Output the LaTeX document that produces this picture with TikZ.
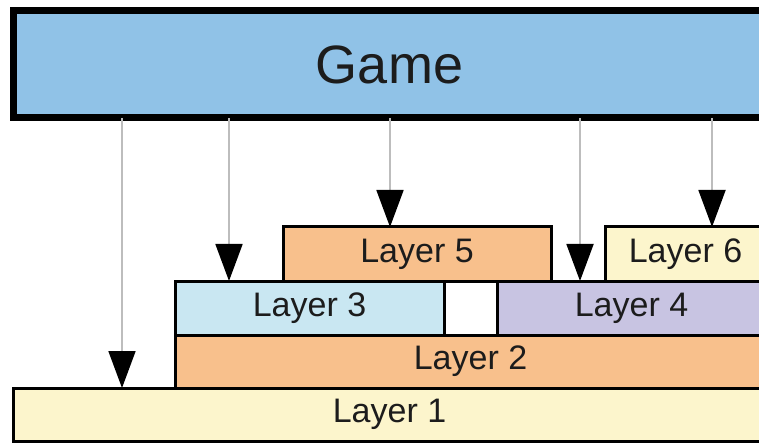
\documentclass[tikz,border=0pt]{standalone}
\usepackage{fontspec}
\setmainfont{Liberation Sans}
\usetikzlibrary{arrows.meta}
\definecolor{gamefill}{HTML}{90C2E7}
\definecolor{ylw}{HTML}{FCF5CC}
\definecolor{org}{HTML}{F8C08C}
\definecolor{lblue}{HTML}{C9E7F2}
\definecolor{lav}{HTML}{C8C4E2}
\definecolor{txt}{HTML}{1C1C1C}
\definecolor{wire}{HTML}{BDBDBD}
\tikzset{
  layerbox/.style={draw=black, line width=3pt, inner sep=0pt, outer sep=0pt,
    text=txt, font=\fontsize{34}{36}\selectfont},
  gamebox/.style={draw=black, line width=7pt, fill=gamefill, inner sep=0pt, outer sep=0pt,
    text=txt, font=\fontsize{54}{58}\selectfont},
  call/.style={draw=wire, line width=1.8pt,
    -{Triangle[length=37pt,width=27pt,color=black]}},
}
\begin{document}
\begin{tikzpicture}[x=1pt,y=-1pt]
\useasboundingbox (0,0) rectangle (759,443);
\clip (0,0) rectangle (759,443);
\fill[white] (0,0) rectangle (759,443);
% Game
\node[gamebox, minimum width=753pt, minimum height=107pt] (game) at (389.5,64.5) {Game};
% Layers
\node[layerbox, fill=ylw, minimum width=753pt, minimum height=53pt] (l1) at (389.5,414.5) {Layer 1};
\node[layerbox, fill=org, minimum width=591pt, minimum height=53pt] (l2) at (470.5,361.5) {Layer 2};
\node[layerbox, fill=lblue, minimum width=269pt, minimum height=54pt] (l3) at (309.5,308) {Layer 3};
\node[layerbox, fill=white, minimum width=53pt, minimum height=54pt] (gap) at (470.5,308) {};
\node[layerbox, fill=lav, minimum width=269pt, minimum height=54pt] (l4) at (631.5,308) {Layer 4};
\node[layerbox, fill=org, minimum width=268pt, minimum height=54pt] (l5) at (417,254) {Layer 5};
\node[layerbox, fill=ylw, minimum width=161pt, minimum height=54pt] (l6) at (685.5,254) {Layer 6};
% call connectors
\coordinate (c1) at (122,0);
\coordinate (c3) at (229,0);
\coordinate (c5) at (390,0);
\coordinate (c4) at (580,0);
\coordinate (c6) at (712,0);
\draw[call] (c1 |- game.south) -- (c1 |- l1.north);
\draw[call] (c3 |- game.south) -- (c3 |- l3.north);
\draw[call] (c5 |- game.south) -- (c5 |- l5.north);
\draw[call] (c4 |- game.south) -- (c4 |- l4.north);
\draw[call] (c6 |- game.south) -- (c6 |- l6.north);
\end{tikzpicture}
\end{document}
